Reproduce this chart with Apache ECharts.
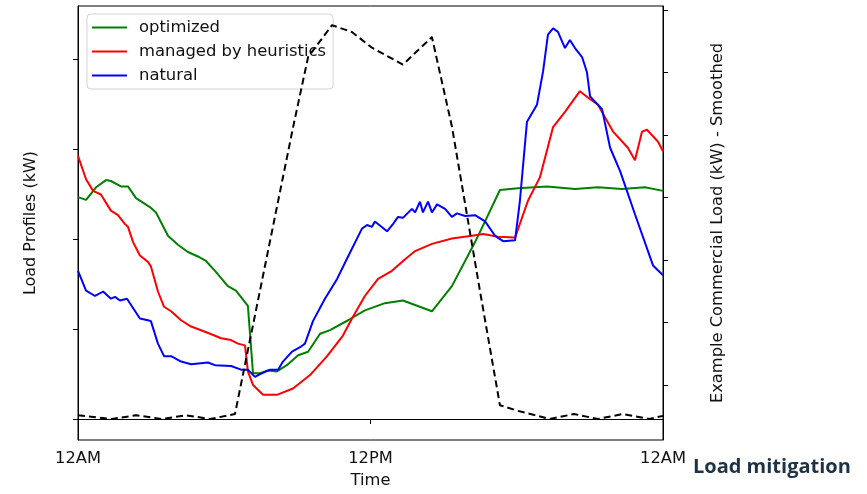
<!DOCTYPE html>
<html>
<head>
<meta charset="utf-8">
<script src="https://cdn.jsdelivr.net/npm/echarts@6/dist/echarts.min.js"></script>
<style>html,body{margin:0;padding:0;background:#fff;}#c{width:867px;height:494px;}</style>
</head>
<body>
<div id="c"></div>
<script>
// Time in hours (0 = 12AM, 24 = next 12AM)
const optHours = [0,0.33,0.74,1.15,1.35,1.76,2.05,2.38,2.95,3.2,3.69,4.1,4.51,4.92,5.25,5.62,6.15,6.48,6.97,7.18,7.47,7.79,8.16,8.57,9.03,9.44,9.93,10.34,11.08,11.77,12.59,13.33,14.52,15.34,16.29,16.7,17.31,18.05,19.24,20.39,21.33,22.32,23.26,24];
const optLoad  = [2.47,2.44,2.58,2.66,2.65,2.59,2.59,2.46,2.36,2.30,2.04,1.94,1.86,1.81,1.76,1.65,1.48,1.43,1.26,0.51,0.51,0.54,0.53,0.60,0.71,0.75,0.95,0.99,1.10,1.21,1.29,1.32,1.20,1.48,1.97,2.20,2.55,2.57,2.59,2.56,2.58,2.56,2.58,2.54];

const heurHours = [0,0.33,0.62,0.94,1.35,1.64,1.93,2.05,2.26,2.54,2.87,2.99,3.28,3.53,3.82,4.23,4.64,5.13,5.42,5.87,6.28,6.56,6.85,6.97,7.18,7.59,8.16,8.82,9.52,10.22,10.87,11.24,11.77,12.31,12.88,13.42,13.83,14.52,15.34,16.16,16.62,17.23,17.93,18.46,18.95,19.49,19.98,20.59,21.01,21.33,21.95,22.56,22.85,23.14,23.34,23.79,24];
const heurLoad  = [2.93,2.67,2.54,2.50,2.32,2.27,2.17,2.14,1.97,1.82,1.75,1.70,1.42,1.25,1.20,1.10,1.03,0.98,0.95,0.90,0.88,0.84,0.82,0.53,0.38,0.27,0.27,0.34,0.49,0.70,0.93,1.12,1.37,1.56,1.65,1.78,1.87,1.95,2.01,2.04,2.06,2.03,2.02,2.43,2.69,3.25,3.42,3.65,3.56,3.50,3.20,3.02,2.88,3.20,3.22,3.09,2.98];

const natHours = [0,0.33,0.7,1.03,1.35,1.52,1.72,2.01,2.54,2.87,2.99,3.28,3.53,3.82,4.23,4.64,5.33,5.62,6.28,6.69,6.97,7.26,7.47,7.88,8.21,8.41,8.78,9.11,9.31,9.64,10.13,10.63,11.08,11.65,11.86,12.06,12.18,12.68,12.92,13.13,13.33,13.7,13.83,14.03,14.15,14.36,14.52,14.73,15.06,15.34,15.55,15.88,16.29,16.7,17.11,17.44,17.93,18.13,18.42,18.83,19.08,19.28,19.49,19.69,19.98,20.18,20.39,20.68,20.88,21.01,21.5,21.83,22.24,22.85,23.59,24];
const natLoad  = [1.65,1.43,1.37,1.42,1.34,1.36,1.32,1.34,1.12,1.10,1.09,0.84,0.70,0.70,0.64,0.61,0.63,0.60,0.59,0.55,0.55,0.47,0.50,0.55,0.55,0.64,0.75,0.80,0.84,1.09,1.34,1.56,1.81,2.12,2.16,2.14,2.20,2.09,2.17,2.25,2.24,2.34,2.30,2.42,2.30,2.42,2.30,2.39,2.34,2.25,2.29,2.26,2.27,2.20,2.04,1.98,1.99,2.43,3.31,3.50,3.87,4.28,4.35,4.31,4.13,4.22,4.13,4.03,3.86,3.59,3.45,3.02,2.76,2.28,1.71,1.60];

const commHours = [0,1.39,2.38,3.45,4.43,5.42,6.44,8.82,9.44,10.42,11.24,12.06,13.33,14.52,15.34,16.49,17.31,18.05,19.36,20.35,21.33,22.36,23.43,24];
const commLoad  = [-0.48,-0.54,-0.48,-0.54,-0.48,-0.54,-0.46,4.12,5.25,5.76,5.65,5.40,5.13,5.57,4.14,1.51,-0.32,-0.41,-0.54,-0.46,-0.54,-0.46,-0.54,-0.49];

const xTicks = [0, 12, 24];
const xTickLabels = ['12AM', '12PM', '12AM'];
const leftTicks = [0, 1, 2, 3, 4];
const rightTicks = [0, 1, 2, 3, 4, 5, 6];

const zip = (a, b) => a.map((t, i) => [t, b[i]]);
const FONT = 'DejaVu Sans';

const chart = echarts.init(document.getElementById('c'));
chart.setOption({
  animation: false,
  backgroundColor: '#fff',
  grid: { left: 78, right: 204, top: 6, bottom: 52, show: true, borderColor: '#000', borderWidth: 1, backgroundColor: 'transparent' },
  legend: {
    data: ['optimized', 'managed by heuristics', 'natural'],
    orient: 'vertical', left: 87, top: 14,
    icon: 'rect', itemWidth: 35, itemHeight: 2, itemGap: 5,
    padding: [4, 7, 4, 5],
    borderColor: '#d3d3d3', borderWidth: 1, borderRadius: 4,
    backgroundColor: 'rgba(255,255,255,0.8)',
    textStyle: { fontFamily: FONT, fontSize: 16.4, color: '#111', lineHeight: 19, padding: [0, 0, 0, 7] }
  },
  xAxis: {
    type: 'value', min: 0, max: 24,
    name: 'Time', nameLocation: 'middle', nameGap: 33,
    nameTextStyle: { fontFamily: FONT, fontSize: 16.3, color: '#111' },
    axisLine: { lineStyle: { color: '#000', width: 1 } },
    axisTick: { show: true, length: 5, lineStyle: { color: '#000' }, customValues: xTicks },
    axisLabel: { customValues: xTicks, fontFamily: FONT, fontSize: 16.3, color: '#111', margin: 11,
      formatter: (v) => xTickLabels[xTicks.indexOf(v)] },
    splitLine: { show: false }
  },
  yAxis: [
    {
      type: 'value', min: -0.233, max: 4.598, position: 'left',
      name: 'Load Profiles (kW)', nameLocation: 'middle', nameGap: 39, nameRotate: 90,
      nameTextStyle: { fontFamily: FONT, fontSize: 16, color: '#111' },
      axisLine: { show: true, lineStyle: { color: '#000', width: 1 } },
      axisTick: { show: true, length: 5, lineStyle: { color: '#000' }, customValues: leftTicks },
      axisLabel: { show: false },
      splitLine: { show: false }
    },
    {
      type: 'value', min: -0.876, max: 6.067, position: 'right',
      name: 'Example Commercial Load (kW) - Smoothed', nameLocation: 'middle', nameGap: 47, nameRotate: 90,
      nameTextStyle: { fontFamily: FONT, fontSize: 16.3, color: '#111' },
      axisLine: { show: true, lineStyle: { color: '#000', width: 1 } },
      axisTick: { show: true, length: 5, lineStyle: { color: '#000' }, customValues: rightTicks },
      axisLabel: { show: false },
      splitLine: { show: false }
    }
  ],
  graphic: [{
    type: 'text', left: 693, top: 457,
    style: { text: 'Load mitigation', fontFamily: 'Open Sans', fontWeight: 'bold', fontSize: 20, fill: '#1f3347' }
  }],
  series: [
    { name: 'optimized', type: 'line', yAxisIndex: 0, data: zip(optHours, optLoad), showSymbol: false,
      color: '#008000', lineStyle: { width: 2, color: '#008000' } },
    { name: 'managed by heuristics', type: 'line', yAxisIndex: 0, data: zip(heurHours, heurLoad), showSymbol: false,
      color: '#ff0000', lineStyle: { width: 2, color: '#ff0000' } },
    { name: 'natural', type: 'line', yAxisIndex: 0, data: zip(natHours, natLoad), showSymbol: false,
      color: '#0000ff', lineStyle: { width: 2, color: '#0000ff' } },
    { name: 'commercial', type: 'line', yAxisIndex: 1, data: zip(commHours, commLoad), showSymbol: false, z: 10,
      color: '#000', lineStyle: { width: 2, color: '#000', type: [7, 4] } }
  ]
});
</script>
</body>
</html>
